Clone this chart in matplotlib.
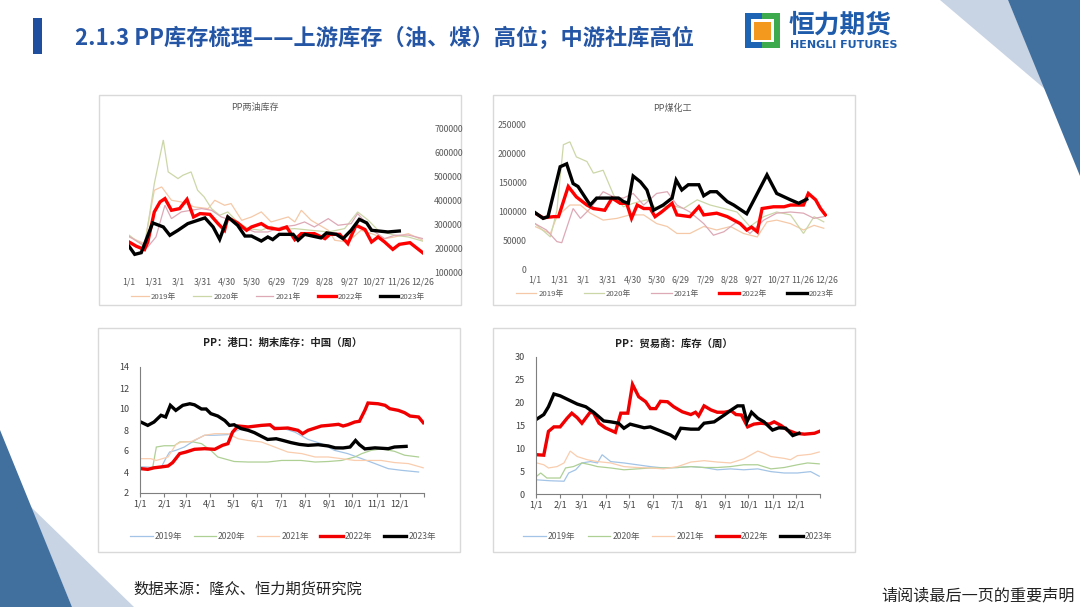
import matplotlib
matplotlib.use("Agg")
import matplotlib.pyplot as plt
from matplotlib.patches import Polygon, Rectangle

plt.rcParams['font.family'] = ['Noto Sans CJK SC', 'DejaVu Sans']

W, H = 1080, 607

# ---------------- data ----------------
years = ['2019年', '2020年', '2021年', '2022年', '2023年']

# Panel 1: PP两油库存 (day of year, thousand tonnes)
p1_2019_d = [0, 19, 31, 40, 52, 64, 80, 97, 105, 117, 125, 138, 150, 162, 174, 195, 203, 211, 223, 244, 252, 268, 284, 297, 313, 325, 342, 360]
p1_2019_v = [247, 219, 443, 457, 401, 394, 373, 366, 401, 380, 387, 317, 331, 352, 310, 331, 310, 359, 317, 275, 233, 226, 275, 261, 240, 247, 261, 233]
p1_2020_d = [0, 19, 31, 42, 48, 60, 66, 76, 84, 92, 101, 111, 121, 133, 146, 162, 174, 186, 203, 223, 244, 264, 280, 293, 305, 325, 342, 360]
p1_2020_v = [255, 205, 471, 654, 520, 492, 506, 520, 443, 415, 366, 338, 352, 310, 282, 275, 292, 278, 282, 275, 268, 282, 352, 317, 275, 254, 247, 229]
p1_2021_d = [0, 11, 23, 33, 44, 52, 64, 76, 89, 101, 113, 125, 138, 154, 170, 187, 203, 215, 227, 244, 256, 272, 280, 289, 301, 313, 325, 342, 360]
p1_2021_v = [250, 226, 205, 247, 380, 324, 352, 359, 366, 359, 331, 317, 289, 268, 268, 289, 296, 310, 289, 324, 296, 303, 345, 310, 268, 240, 254, 255, 240]
p1_2022_d = [0, 9, 19, 23, 31, 38, 44, 52, 62, 71, 79, 87, 99, 109, 117, 121, 133, 144, 150, 162, 170, 184, 193, 203, 211, 227, 240, 246, 258, 268, 278, 289, 297, 305, 313, 323, 331, 344, 360]
p1_2022_v = [226, 208, 194, 226, 352, 394, 408, 359, 366, 405, 331, 345, 342, 303, 275, 328, 306, 275, 289, 303, 286, 278, 289, 236, 261, 261, 240, 258, 258, 219, 296, 278, 226, 247, 226, 195, 216, 223, 180]
p1_2023_d = [0, 7, 15, 29, 42, 50, 60, 72, 93, 103, 111, 121, 133, 142, 150, 162, 170, 176, 184, 201, 207, 215, 235, 242, 254, 262, 272, 282, 291, 297, 317, 331]
p1_2023_v = [208, 174, 181, 306, 289, 254, 275, 303, 327, 289, 237, 331, 296, 251, 251, 230, 247, 236, 258, 258, 233, 258, 243, 264, 258, 240, 275, 321, 306, 275, 268, 272]

# Panel 2: PP煤化工 (thousand tonnes)
p2_2019_d = [0, 19, 27, 43, 56, 68, 84, 101, 117, 134, 150, 163, 175, 191, 208, 224, 241, 257, 274, 286, 298, 315, 331, 344, 356]
p2_2019_v = [75, 63, 92, 112, 112, 98, 86, 89, 95, 95, 80, 75, 63, 63, 75, 69, 75, 63, 57, 83, 86, 80, 69, 77, 72]
p2_2020_d = [0, 19, 27, 35, 43, 51, 64, 72, 84, 97, 109, 121, 138, 150, 167, 183, 200, 216, 233, 249, 265, 282, 298, 315, 331, 344, 356]
p2_2020_v = [80, 57, 103, 216, 221, 195, 187, 167, 172, 129, 109, 115, 121, 106, 112, 106, 121, 112, 106, 100, 75, 92, 100, 95, 63, 92, 83]
p2_2021_d = [0, 14, 27, 33, 47, 56, 68, 84, 97, 109, 121, 134, 150, 163, 175, 191, 208, 220, 233, 249, 265, 282, 298, 315, 331, 344, 356]
p2_2021_v = [80, 69, 49, 47, 106, 89, 106, 135, 126, 124, 132, 112, 132, 135, 112, 100, 80, 60, 66, 83, 63, 86, 98, 100, 98, 89, 92]
p2_2022_d = [0, 10, 23, 29, 41, 51, 64, 72, 86, 95, 105, 113, 119, 126, 134, 142, 148, 156, 169, 175, 191, 202, 208, 224, 237, 253, 261, 267, 274, 280, 294, 307, 315, 331, 337, 346, 352, 358]
p2_2022_v = [98, 90, 92, 92, 144, 126, 112, 106, 103, 124, 115, 115, 89, 112, 106, 106, 92, 100, 115, 95, 92, 109, 95, 98, 92, 80, 69, 74, 66, 106, 109, 109, 112, 112, 132, 121, 106, 95]
p2_2023_d = [0, 10, 16, 31, 39, 47, 53, 68, 76, 103, 109, 115, 121, 130, 138, 146, 158, 169, 174, 181, 189, 202, 208, 216, 224, 237, 245, 261, 270, 286, 298, 315, 325, 335]
p2_2023_v = [99, 89, 92, 178, 183, 149, 144, 112, 124, 124, 118, 115, 162, 152, 138, 103, 112, 124, 155, 138, 147, 147, 128, 135, 135, 118, 112, 97, 121, 164, 132, 121, 115, 122]

# Panel 3: PP 港口 期末库存
p3_2019_d = [1, 27, 33, 38, 46, 57, 70, 83, 96, 113, 130, 147, 164, 182, 199, 216, 233, 250, 267, 285, 302, 319, 336, 358]
p3_2019_v = [4.5, 4.4, 5.27, 5.9, 6.06, 6.38, 7.0, 7.5, 7.5, 7.56, 8.1, 8.3, 8.4, 8.2, 7.8, 7.1, 6.7, 6.06, 5.75, 5.27, 4.8, 4.32, 4.16, 4.0]
p3_2020_d = [1, 16, 21, 31, 44, 51, 66, 79, 91, 100, 121, 139, 164, 182, 207, 225, 242, 259, 276, 285, 297, 310, 327, 340, 358]
p3_2020_v = [4.3, 4.3, 6.38, 6.5, 6.5, 6.86, 6.9, 6.7, 6.06, 5.43, 5.0, 4.95, 4.95, 5.1, 5.1, 4.95, 5.0, 5.1, 5.43, 5.75, 6.06, 6.2, 5.97, 5.6, 5.43]
p3_2021_d = [1, 14, 21, 36, 46, 53, 66, 83, 96, 113, 126, 139, 156, 173, 190, 208, 225, 242, 259, 276, 293, 310, 327, 345, 364]
p3_2021_v = [5.27, 5.27, 5.1, 5.43, 6.6, 6.86, 6.9, 7.5, 7.65, 7.65, 7.17, 7.0, 6.86, 6.38, 5.9, 5.75, 5.43, 5.43, 5.27, 5.1, 5.1, 5.1, 4.9, 4.8, 4.4]
p3_2022_d = [1, 10, 18, 27, 36, 42, 51, 59, 70, 83, 96, 106, 113, 119, 126, 139, 156, 167, 173, 190, 203, 209, 216, 233, 242, 255, 261, 267, 276, 282, 289, 293, 306, 315, 321, 332, 340, 347, 358, 364]
p3_2022_v = [4.32, 4.25, 4.4, 4.48, 4.57, 4.9, 5.75, 5.9, 6.16, 6.22, 6.16, 6.54, 6.7, 7.8, 8.38, 8.29, 8.44, 8.5, 8.13, 8.19, 7.97, 7.65, 7.97, 8.38, 8.44, 8.54, 8.38, 8.5, 8.76, 8.83, 9.87, 10.57, 10.5, 10.35, 10.03, 9.87, 9.65, 9.33, 9.24, 8.7]
p3_2023_d = [1, 10, 18, 27, 33, 39, 46, 55, 64, 70, 79, 85, 91, 100, 109, 115, 121, 130, 139, 147, 156, 164, 175, 184, 194, 205, 216, 229, 242, 251, 261, 270, 277, 282, 289, 302, 319, 327, 342]
p3_2023_v = [8.76, 8.44, 8.76, 9.4, 9.24, 10.35, 9.87, 10.35, 10.5, 10.4, 10.0, 10.0, 9.56, 9.33, 8.9, 8.44, 8.5, 8.13, 7.97, 7.75, 7.4, 7.1, 7.17, 7.0, 6.8, 6.63, 6.54, 6.6, 6.48, 6.3, 6.29, 6.38, 7.0, 6.6, 6.2, 6.3, 6.22, 6.38, 6.44]

# Panel 4: PP 贸易商 库存
p4_2019_d = [1, 18, 36, 42, 51, 59, 70, 79, 85, 96, 113, 130, 147, 164, 182, 199, 216, 233, 250, 267, 285, 302, 319, 336, 353, 364]
p4_2019_v = [3.1, 2.9, 2.8, 4.6, 5.3, 6.8, 7.1, 6.8, 8.6, 7.1, 6.8, 6.4, 6.0, 5.7, 5.8, 6.0, 5.8, 5.3, 5.5, 5.3, 5.5, 4.9, 4.6, 4.6, 4.9, 3.9]
p4_2020_d = [1, 6, 14, 31, 38, 48, 59, 70, 79, 96, 113, 130, 147, 164, 182, 199, 216, 233, 250, 267, 285, 302, 319, 336, 349, 364]
p4_2020_v = [3.9, 4.6, 3.5, 3.5, 5.7, 6.0, 6.8, 6.4, 6.0, 5.7, 5.3, 5.5, 5.7, 5.7, 5.8, 6.0, 5.8, 5.8, 6.0, 6.4, 6.4, 5.5, 5.8, 6.4, 6.8, 6.6]
p4_2021_d = [1, 10, 16, 27, 36, 44, 53, 66, 79, 96, 113, 130, 147, 164, 182, 199, 216, 233, 250, 267, 285, 293, 302, 319, 327, 336, 353, 364]
p4_2021_v = [6.8, 6.4, 5.7, 6.0, 6.8, 9.4, 8.2, 7.5, 7.1, 6.8, 6.0, 5.8, 5.7, 5.5, 6.0, 7.0, 7.3, 7.0, 6.8, 7.7, 9.4, 8.9, 8.2, 7.8, 7.5, 8.4, 8.7, 9.2]
p4_2022_d = [1, 10, 16, 23, 31, 40, 46, 53, 59, 70, 74, 81, 89, 102, 109, 118, 124, 132, 141, 147, 154, 160, 169, 177, 188, 199, 205, 209, 216, 225, 233, 242, 251, 257, 264, 272, 280, 289, 300, 306, 315, 323, 334, 345, 358, 364]
p4_2022_v = [8.6, 8.5, 13.7, 14.7, 14.7, 16.6, 17.7, 16.7, 15.5, 18.0, 17.7, 15.5, 14.5, 13.5, 17.7, 17.7, 24.0, 21.3, 20.2, 18.7, 18.7, 20.3, 20.2, 19.1, 18.0, 17.4, 17.9, 17.1, 19.3, 18.4, 17.9, 17.9, 18.2, 17.4, 17.3, 14.7, 15.3, 15.5, 15.3, 15.8, 15.0, 14.0, 13.3, 13.1, 13.3, 13.7]
p4_2023_d = [1, 10, 16, 23, 31, 42, 53, 64, 74, 87, 96, 106, 113, 121, 139, 147, 160, 173, 179, 186, 199, 209, 216, 229, 242, 251, 259, 266, 271, 277, 285, 293, 304, 312, 321, 330, 338]
p4_2023_v = [16.4, 17.4, 19.1, 21.9, 21.5, 20.6, 19.7, 19.1, 17.9, 16.0, 15.8, 15.5, 14.4, 15.3, 14.5, 14.7, 13.8, 12.9, 12.2, 14.4, 14.2, 14.2, 15.5, 15.8, 17.3, 18.4, 19.3, 19.3, 15.8, 17.9, 16.6, 15.8, 14.0, 14.5, 14.4, 12.8, 13.3]

top_xticks = [0, 30, 60, 90, 120, 150, 180, 210, 240, 270, 300, 330, 360]
top_xlabels = ['1/1', '1/31', '3/1', '3/31', '4/30', '5/30', '6/29', '7/29', '8/28', '9/27', '10/27', '11/26', '12/26']
bot_xticks = [0, 31, 59, 90, 120, 151, 181, 212, 243, 273, 304, 334]
bot_xlabels = ['1/1', '2/1', '3/1', '4/1', '5/1', '6/1', '7/1', '8/1', '9/1', '10/1', '11/1', '12/1']

# ---------------- figure ----------------
fig = plt.figure(figsize=(W / 100, H / 100), dpi=100)
bg = fig.add_axes([0, 0, 1, 1])
bg.set_xlim(0, W)
bg.set_ylim(H, 0)
bg.axis('off')

dark = '#41709F'
light = '#C8D4E4'
# corner decorations
bg.add_patch(Polygon([(940, 0), (1008, 0), (1046, 90)], closed=True, fc=light, ec='none'))
bg.add_patch(Polygon([(1008, 0), (1080, 0), (1080, 176)], closed=True, fc=dark, ec='none'))
bg.add_patch(Polygon([(30, 506), (134, 607), (72, 607)], closed=True, fc=light, ec='none'))
bg.add_patch(Polygon([(0, 430), (72, 607), (0, 607)], closed=True, fc=dark, ec='none'))

# title
bg.add_patch(Rectangle((33, 18), 9, 36, fc='#1F4E9E', ec='none'))
bg.text(75, 38, '2.1.3 PP库存梳理——上游库存（油、煤）高位；中游社库高位', fontsize=16,
        fontweight='bold', color='#2556A6', va='center', ha='left')

# logo
bg.add_patch(Rectangle((745, 13), 17, 35, fc='#1E64B4', ec='none'))
bg.add_patch(Rectangle((762, 13), 18, 35, fc='#3DAA4E', ec='none'))
bg.add_patch(Rectangle((751, 19), 23, 23, fc='white', ec='none'))
bg.add_patch(Rectangle((754, 22), 17, 18, fc='#F39A1E', ec='none'))
bg.text(789, 25, '恒力期货', fontsize=18.5, fontweight='bold', color='#1E5CAB', va='center', ha='left')
bg.text(790, 45, 'HENGLI FUTURES', fontsize=8, fontweight='bold', color='#1E5CAB',
        va='center', ha='left', family=['DejaVu Sans'])

# footer
bg.text(133, 589, '数据来源：隆众、恒力期货研究院', fontsize=11, color='#222222', va='center', ha='left')
bg.text(1075, 596, '请阅读最后一页的重要声明', fontsize=11.6, color='#222222', va='center', ha='right')

# panel boxes
for (x0, y0, x1, y1) in [(99, 95, 461, 305), (493, 95, 855, 305), (98, 328, 460, 552), (493, 328, 855, 552)]:
    bg.add_patch(Rectangle((x0, y0), x1 - x0, y1 - y0, fc='white', ec='#D9D9D9', lw=1))


def axes_px(x0, y0, x1, y1):
    return fig.add_axes([x0 / W, 1 - y1 / H, (x1 - x0) / W, (y1 - y0) / H])


top_colors = ['#F5C9A8', '#CCD7A8', '#DDA9B6', '#FF0000', '#000000']
bot_colors = ['#A3C4E6', '#AFD095', '#F9CDAE', '#F00000', '#000000']
widths = [0.9, 0.9, 0.9, 2.4, 2.4]
tick_col = '#595959'


def draw(ax, series, colors):
    for (d, v), c, lw, lab in zip(series, colors, widths, years):
        ax.plot(d, v, color=c, lw=lw, label=lab, solid_joinstyle='miter')


def legend(ax, cx, cy, fs, hl, cs):
    ax.legend(loc='center', bbox_to_anchor=(cx / W, 1 - cy / H), bbox_transform=fig.transFigure,
              ncol=5, frameon=False, fontsize=fs, handlelength=hl, columnspacing=cs,
              handletextpad=0.25, labelcolor=tick_col, borderpad=0)


# ---- Panel 1 ----
ax1 = axes_px(129, 129, 423, 272)
draw(ax1, [(p1_2019_d, [v * 1000 for v in p1_2019_v]), (p1_2020_d, [v * 1000 for v in p1_2020_v]),
           (p1_2021_d, [v * 1000 for v in p1_2021_v]), (p1_2022_d, [v * 1000 for v in p1_2022_v]),
           (p1_2023_d, [v * 1000 for v in p1_2023_v])], top_colors)
ax1.set_xlim(0, 360)
ax1.set_ylim(100000, 700000)
ax1.set_yticks(range(100000, 700001, 100000))
ax1.yaxis.tick_right()
ax1.set_xticks(top_xticks)
ax1.set_xticklabels(top_xlabels)
for s in ax1.spines.values():
    s.set_visible(False)
ax1.tick_params(length=0, labelsize=6.3, colors=tick_col, pad=4)
ax1.tick_params(axis='y', pad=8)
legend(ax1, 278, 297, 5.6, 2.3, 2.2)
bg.text(255, 107, 'PP两油库存', fontsize=6.5, color=tick_col, ha='center', va='center')

# ---- Panel 2 ----
ax2 = axes_px(535, 125, 827, 270)
draw(ax2, [(p2_2019_d, [v * 1000 for v in p2_2019_v]), (p2_2020_d, [v * 1000 for v in p2_2020_v]),
           (p2_2021_d, [v * 1000 for v in p2_2021_v]), (p2_2022_d, [v * 1000 for v in p2_2022_v]),
           (p2_2023_d, [v * 1000 for v in p2_2023_v])], top_colors)
ax2.set_xlim(0, 360)
ax2.set_ylim(0, 250000)
ax2.set_yticks(range(0, 250001, 50000))
ax2.set_xticks(top_xticks)
ax2.set_xticklabels(top_xlabels)
for s in ax2.spines.values():
    s.set_visible(False)
ax2.tick_params(length=0, labelsize=6.3, colors=tick_col, pad=4)
ax2.tick_params(axis='y', pad=6)
legend(ax2, 675, 294, 5.6, 2.6, 2.6)
bg.text(672, 108, 'PP煤化工', fontsize=6.5, color=tick_col, ha='center', va='center')

# ---- Panel 3 ----
ax3 = axes_px(140, 367, 424, 493)
draw(ax3, [(p3_2019_d, p3_2019_v), (p3_2020_d, p3_2020_v), (p3_2021_d, p3_2021_v),
           (p3_2022_d, p3_2022_v), (p3_2023_d, p3_2023_v)], bot_colors)
ax3.set_xlim(0, 365)
ax3.set_ylim(2, 14)
ax3.set_yticks(range(2, 15, 2))
ax3.set_xticks(bot_xticks + [365])
ax3.set_xticklabels(bot_xlabels + [''])
ax3.spines['top'].set_visible(False)
ax3.spines['right'].set_visible(False)
for s in ('left', 'bottom'):
    ax3.spines[s].set_color('#7F7F7F')
    ax3.spines[s].set_linewidth(0.8)
ax3.tick_params(axis='x', length=3, width=0.8, color='#7F7F7F', labelsize=6.5, labelcolor='#404040', pad=2)
ax3.tick_params(axis='y', length=0, labelsize=6.5, labelcolor='#404040', pad=8)
legend(ax3, 283, 537, 6.2, 2.6, 1.3)
bg.text(283, 343, 'PP：港口：期末库存：中国（周）', fontsize=7.5, fontweight='bold', color='#222222',
        ha='center', va='center')

# ---- Panel 4 ----
ax4 = axes_px(536, 357, 820, 494)
draw(ax4, [(p4_2019_d, p4_2019_v), (p4_2020_d, p4_2020_v), (p4_2021_d, p4_2021_v),
           (p4_2022_d, p4_2022_v), (p4_2023_d, p4_2023_v)], bot_colors)
ax4.set_xlim(0, 365)
ax4.set_ylim(0, 30)
ax4.set_yticks(range(0, 31, 5))
ax4.set_xticks(bot_xticks + [365])
ax4.set_xticklabels(bot_xlabels + [''])
ax4.spines['top'].set_visible(False)
ax4.spines['right'].set_visible(False)
for s in ('left', 'bottom'):
    ax4.spines[s].set_color('#7F7F7F')
    ax4.spines[s].set_linewidth(0.8)
ax4.tick_params(axis='x', length=3, width=0.8, color='#7F7F7F', labelsize=6.5, labelcolor='#404040', pad=2)
ax4.tick_params(axis='y', length=0, labelsize=6.5, labelcolor='#404040', pad=8)
legend(ax4, 678, 537, 6.2, 2.6, 1.4)
bg.text(674, 343, 'PP：贸易商：库存（周）', fontsize=7.5, fontweight='bold', color='#222222',
        ha='center', va='center')

fig.savefig('out.png', dpi=100)
